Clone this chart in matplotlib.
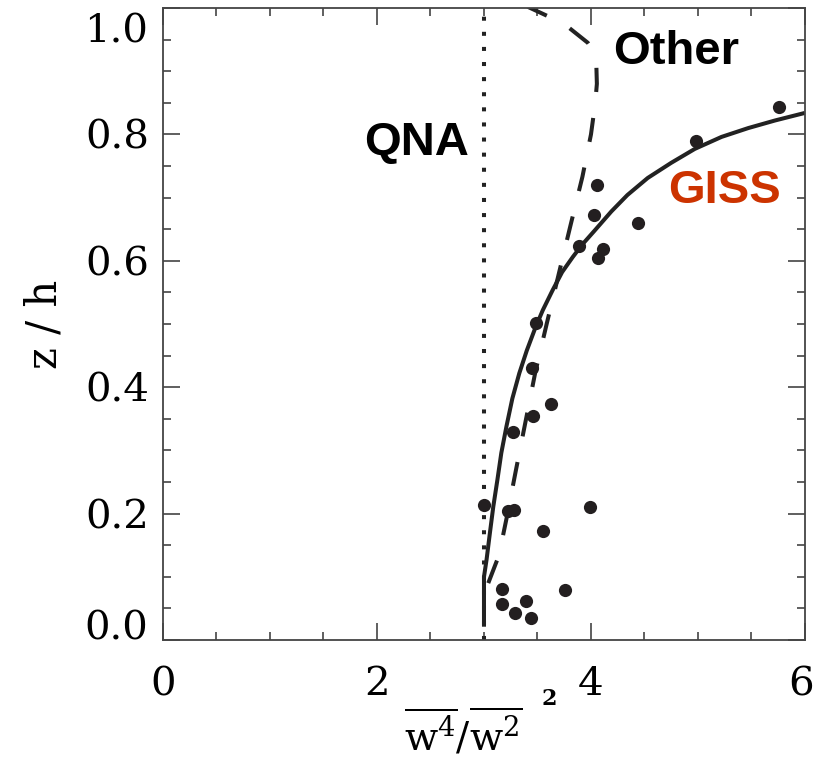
import numpy as np
import matplotlib
matplotlib.use('Agg')
import matplotlib.pyplot as plt
from matplotlib.ticker import MultipleLocator

plt.rcParams['font.family'] = 'DejaVu Serif'
plt.rcParams['mathtext.fontset'] = 'dejavuserif'

# measured points (w4/w2^2 , z/h)
obs_x = [3.00, 3.22, 3.28, 3.27, 3.46, 3.45, 3.49, 3.63, 3.55, 3.99,
         3.17, 3.17, 3.29, 3.39, 3.44, 3.76, 3.89, 4.06, 4.03, 4.07,
         4.11, 4.44, 4.98, 5.76]
obs_z = [0.213, 0.204, 0.206, 0.329, 0.355, 0.430, 0.502, 0.373, 0.173, 0.211,
         0.081, 0.057, 0.043, 0.062, 0.035, 0.079, 0.623, 0.720, 0.672, 0.604,
         0.619, 0.660, 0.790, 0.843]

# GISS model curve
giss_x = [3.00, 3.00, 3.024, 3.055, 3.087, 3.125, 3.162, 3.21, 3.265, 3.33, 3.40,
          3.48, 3.55, 3.64, 3.73, 3.83, 3.92, 4.03, 4.19, 4.34, 4.53, 4.75,
          4.97, 5.22, 5.47, 5.72, 6.00]
giss_z = [0.021, 0.10, 0.127, 0.169, 0.211, 0.253, 0.296, 0.338, 0.382, 0.422, 0.458,
          0.494, 0.522, 0.553, 0.582, 0.606, 0.626, 0.647, 0.678, 0.704, 0.731, 0.755,
          0.777, 0.796, 0.81, 0.822, 0.834]

# "Other" model curve
other_x = [3.04, 3.14, 3.22, 3.30, 3.39, 3.48, 3.59, 3.70, 3.81, 3.92, 4.00,
           4.04, 4.055, 4.05, 4.03, 3.97, 3.80, 3.61, 3.42, 3.35]
other_z = [0.09, 0.134, 0.20, 0.27, 0.347, 0.424, 0.503, 0.58, 0.657, 0.733, 0.80,
           0.85, 0.88, 0.91, 0.93, 0.945, 0.968, 0.986, 1.001, 1.01]

qna_x = 3.0

fig = plt.figure(figsize=(8.15, 7.68), dpi=100)
ax = fig.add_axes([0.2, 0.1667, 0.7877, 0.8229])

ax.plot([qna_x, qna_x], [0, 1.0], color='#222222', lw=2.9,
        linestyle=(0, (1, 2.75)), dash_capstyle='butt')
ax.plot(giss_x, giss_z, color='#222222', lw=2.9, solid_capstyle='butt',
        solid_joinstyle='round')
ax.plot(other_x, other_z, color='#222222', lw=2.9,
        linestyle=(0, (6, 6.5)), dash_capstyle='butt')
ax.plot(obs_x, obs_z, 'o', color='#231f20', markersize=9.5, markeredgewidth=0)

ax.set_xlim(0, 6)
ax.set_ylim(0, 1.0)
ax.xaxis.set_major_locator(MultipleLocator(2))
ax.xaxis.set_minor_locator(MultipleLocator(0.5))
ax.yaxis.set_major_locator(MultipleLocator(0.2))
ax.yaxis.set_minor_locator(MultipleLocator(0.05))
ax.tick_params(which='both', direction='in', top=True, right=True,
               color='#444444', width=1.2)
ax.tick_params(which='major', length=12)
ax.tick_params(which='minor', length=6)
ax.tick_params(axis='x', which='major', labelsize=29, pad=19)
ax.tick_params(axis='y', which='major', labelsize=29, pad=10)
for s in ax.spines.values():
    s.set_linewidth(1.3)
    s.set_color('#444444')

ax.set_yticks([0, 0.2, 0.4, 0.6, 0.8, 1.0])
ax.set_yticklabels(['', '0.2', '0.4', '0.6', '0.8', ''])
ax.set_xticks([0, 2, 4, 6])
ax.set_xticklabels(['0', '2', '4', ''])
# end labels sit inside the axis range in the original
ax.annotate('0.0', xy=(0, 0.0), xycoords=('axes fraction', 'data'),
            xytext=(-10.5, 8), textcoords='offset points', ha='right', va='center',
            fontsize=29)
ax.annotate('1.0', xy=(0, 1.0), xycoords=('axes fraction', 'data'),
            xytext=(-10.5, -17), textcoords='offset points', ha='right', va='center',
            fontsize=29)
ax.annotate('6', xy=(6, 0), xycoords=('data', 'axes fraction'),
            xytext=(-3, -19), textcoords='offset points', ha='center', va='top',
            fontsize=29)

ax.set_ylabel('z / h', fontsize=30, labelpad=14)
fig.text(463 / 815, 1 - 733 / 768, r'$\overline{\mathrm{w}^{4}}/\overline{\mathrm{w}^{2}}$',
         fontsize=28, ha='center', va='center')
fig.text(549 / 815, 1 - 699 / 768, '2', fontsize=16, ha='center', va='center',
         fontweight='bold')

ax.text(2.37, 0.786, 'QNA', fontsize=34, fontweight='bold', family='Liberation Sans',
        ha='center', va='center', color='black')
ax.text(4.80, 0.93, 'Other', fontsize=34, fontweight='bold', family='Liberation Sans',
        ha='center', va='center', color='black')
ax.text(5.245, 0.71, 'GISS', fontsize=34, fontweight='bold', family='Liberation Sans',
        ha='center', va='center', color='#CC3300')

fig.savefig('out.png', dpi=100)
